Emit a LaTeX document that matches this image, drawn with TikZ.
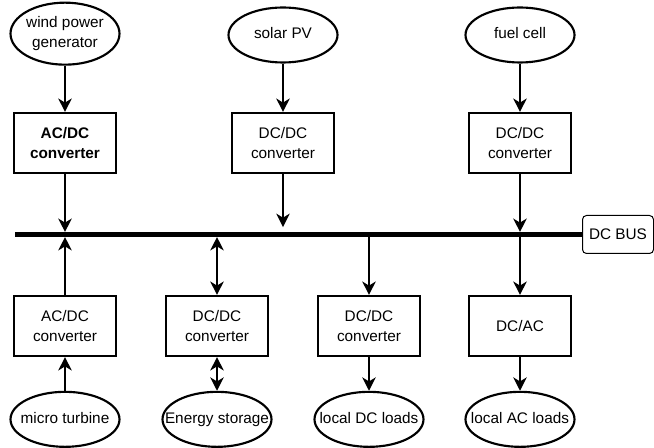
\documentclass[tikz,border=0pt]{standalone}
\usepackage{fontspec}
\setmainfont{Liberation Sans}
\usepackage{tikz}
\usetikzlibrary{shapes.geometric, arrows.meta, positioning}

% text that may run past the oval's rim
\newcommand{\ovaltext}[1]{\makebox[0pt]{\begin{tabular}{@{}c@{}}#1\end{tabular}}}
\newcommand{\boxfont}{\fontsize{11.5}{15}\selectfont}

\tikzset{
  source/.style={ellipse, draw, line width=1.6pt, minimum width=81.75pt, minimum height=41.25pt, inner sep=0pt},
  conv/.style={rectangle, draw, line width=1.6pt, minimum width=76.5pt, minimum height=45pt, align=center},
  flow/.style={line width=1.6pt, -{Stealth[length=10pt,width=10pt,inset=3pt]}},
  bothflow/.style={line width=1.6pt, {Stealth[length=10pt,width=10pt,inset=3pt]}-{Stealth[length=10pt,width=10pt,inset=3pt]}},
  busline/.style={line width=3.75pt},
  buslabel/.style={rectangle, draw, rounded corners=3pt, line width=0.75pt, minimum width=53.25pt, minimum height=28.5pt}
}

\begin{document}
\begin{tikzpicture}[x=0.75pt, y=-0.75pt, node distance=81pt, on grid, font=\boxfont]
    \useasboundingbox (0,0) rectangle (654,448);

    % converters above the bus
    \node[conv, font=\boxfont\bfseries] (acdcw) at (65,143) {AC/DC\\converter};
    \node[conv] (dcdcpv) at (283,143) {DC/DC\\converter};
    \node[conv] (dcdcfc) at (520,143) {DC/DC\\converter};

    \node[source, minimum height=46.5pt] (wind) [above=82pt of acdcw] {\ovaltext{wind power\\generator}};
    \node[source] (pv) [above=of dcdcpv] {\ovaltext{solar PV}};
    \node[source] (fc) [above=of dcdcfc] {\ovaltext{fuel cell}};

    % bus
    \coordinate (busw) at (15,234.5);
    \node[buslabel, anchor=west] (buslbl) at (582,234.5) {DC BUS};
    \draw[busline] (busw) -- (buslbl.west);

    % converters below the bus
    \node[conv] (acdcmt) at (65,326) {AC/DC\\converter};
    \node[conv] (dcdces) at (217,326) {DC/DC\\converter};
    \node[conv] (dcdcld) at (369,326) {DC/DC\\converter};
    \node[conv] (dcac) at (520,326) {DC/AC};

    \node[source] (mt) [below=70pt of acdcmt] {\ovaltext{micro turbine}};
    \node[source] (es) [below=70pt of dcdces] {\ovaltext{Energy storage}};
    \node[source] (ldc) [below=70pt of dcdcld] {\ovaltext{local DC loads}};
    \node[source] (lac) [below=70pt of dcac] {\ovaltext{local AC loads}};

    \draw[flow] (wind) -- (acdcw);
    \draw[flow] (pv) -- (dcdcpv);
    \draw[flow] (fc) -- (dcdcfc);
    \draw[flow, shorten >=1.9pt] (acdcw) -- (acdcw |- busw);
    \draw[flow, shorten >=5.6pt] (dcdcpv) -- (dcdcpv |- busw);
    \draw[flow, shorten >=1.9pt] (dcdcfc) -- (dcdcfc |- busw);

    \draw[flow, shorten >=1.9pt] (acdcmt) -- (acdcmt |- busw);
    \draw[bothflow, shorten >=1.9pt] (dcdces) -- (dcdces |- busw);
    \draw[flow] (dcdcld |- busw) -- (dcdcld);
    \draw[flow] (dcac |- busw) -- (dcac);

    \draw[flow] (mt) -- (acdcmt);
    \draw[bothflow] (dcdces) -- (es);
    \draw[flow] (dcdcld) -- (ldc);
    \draw[flow] (dcac) -- (lac);
\end{tikzpicture}
\end{document}
